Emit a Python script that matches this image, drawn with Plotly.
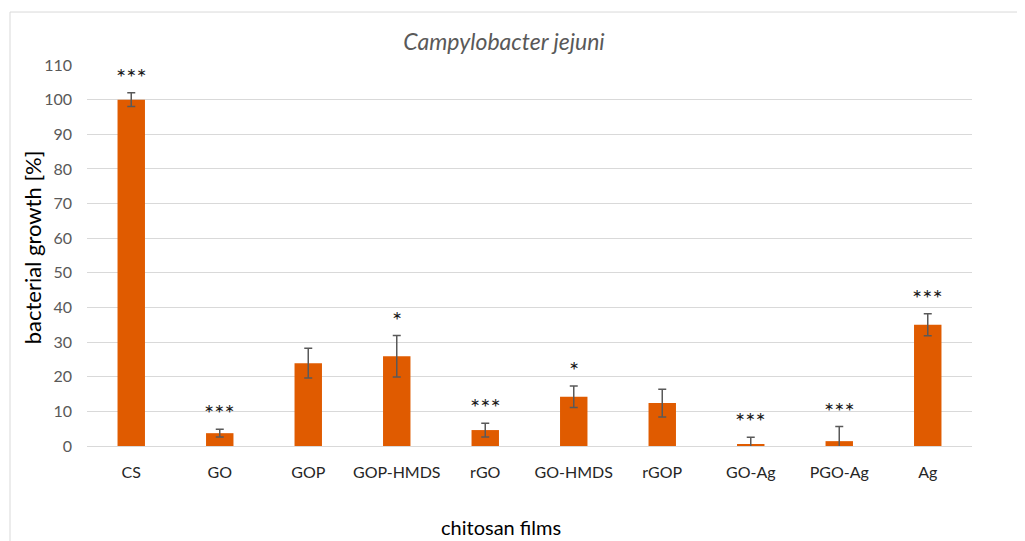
import plotly.graph_objects as go

categories = ["CS", "GO", "GOP", "GOP-HMDS", "rGO", "GO-HMDS", "rGOP", "GO-Ag", "PGO-Ag", "Ag"]
growth = [100.0, 3.7, 23.9, 25.9, 4.6, 14.2, 12.4, 0.5, 1.4, 35.0]
errors = [2.0, 1.1, 4.3, 6.0, 2.0, 3.1, 4.0, 2.0, 4.2, 3.2]
significance = ["***", "***", "", "*", "***", "*", "", "***", "***", "***"]
y_ticks = [0, 10, 20, 30, 40, 50, 60, 70, 80, 90, 100, 110]

FONT = "Lato"
GRAY = "#595959"
W, H = 1017, 533

fig = go.Figure()
fig.add_trace(go.Bar(
    x=categories, y=growth,
    marker=dict(color="#E05B00", line=dict(width=0)),
    error_y=dict(type="data", array=errors, visible=True,
                 color=GRAY, thickness=1.5, width=4),
    width=0.31,
    showlegend=False,
))

annotations = []
for cat, v, e, s in zip(categories, growth, errors, significance):
    if s:
        annotations.append(dict(x=cat, y=v + e, xref="x", yref="y", text=s,
                                showarrow=False, yanchor="bottom", yshift=0,
                                font=dict(family=FONT, size=24, color="#1a1a1a")))

annotations.append(dict(x=-0.062, y=0.522, xref="paper", yref="paper",
                        text="bacterial growth [%]", textangle=-90, showarrow=False,
                        xanchor="center", yanchor="middle",
                        font=dict(family=FONT, size=22, color="#000000")))
annotations.append(dict(x=0.468, y=-0.213, xref="paper", yref="paper",
                        text="chitosan films", showarrow=False,
                        xanchor="center", yanchor="middle",
                        font=dict(family=FONT, size=20, color="#000000")))

shapes = [
    dict(type="line", xref="paper", yref="paper", x0=-0.087, x1=1.07, y0=1.139, y1=1.139,
         line=dict(color="#d9d9d9", width=1)),
    dict(type="line", xref="paper", yref="paper", x0=-0.087, x1=-0.087, y0=-0.26, y1=1.139,
         line=dict(color="#d9d9d9", width=1)),
]

fig.update_layout(
    width=W, height=H,
    margin=dict(l=79, r=53, t=57, b=95),
    paper_bgcolor="white", plot_bgcolor="white",
    title=dict(text="<i>Campylobacter jejuni</i>", x=(504 - 8) / W, xanchor="center",
               y=1 - 34 / H, yanchor="middle",
               font=dict(family=FONT, size=23, color=GRAY)),
    xaxis=dict(showgrid=False, showline=True, linecolor="#d9d9d9", linewidth=1,
               ticks="", tickfont=dict(family=FONT, size=16, color="#262626"),
               ticklabelstandoff=12, range=[-0.5, 9.5]),
    yaxis=dict(range=[0, 110], tickvals=y_ticks, showgrid=True, gridcolor="#d9d9d9",
               gridwidth=1, zeroline=False, showline=False, ticks="",
               tickfont=dict(family=FONT, size=16, color=GRAY), ticklabelstandoff=14),
    annotations=annotations,
    shapes=shapes,
    bargap=0.69,
)

fig.write_html("out.html")
